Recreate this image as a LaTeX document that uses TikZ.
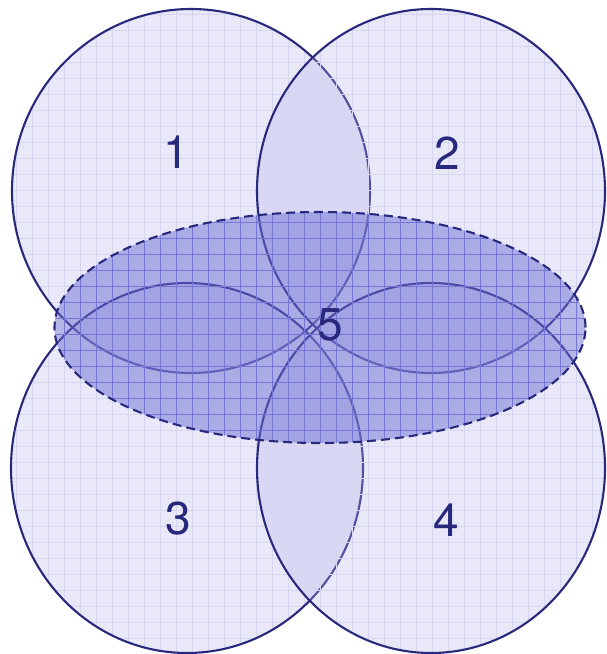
\documentclass[tikz,border=0pt]{standalone}
\usepackage{fontspec}
\setmainfont{TeX Gyre Heros}
\usetikzlibrary{patterns.meta}
\definecolor{linec}{RGB}{40,40,125}
\definecolor{circfill}{RGB}{180,180,235}
\definecolor{circgrid}{RGB}{214,214,241}
\definecolor{ellfill}{RGB}{110,110,210}
\definecolor{ellgrid}{RGB}{118,118,212}
\tikzset{
  circbody/.style={fill=circfill, fill opacity=0.3},
  circpat/.style={pattern={Hatch[angle=0,distance=16pt,line width=0.5pt]}, pattern color=circgrid},
  circline/.style={draw=linec, line width=2.1pt},
  ellbody/.style={fill=ellfill, fill opacity=0.5},
  ellpat/.style={pattern={Hatch[angle=0,distance=16pt,line width=0.5pt]}, pattern color=ellgrid},
  ellline/.style={draw=linec, line width=2.1pt, dash pattern=on 9pt off 5pt},
  lab/.style={text=linec, inner sep=0pt, font=\fontsize{46}{46}\selectfont}
}
\begin{document}
\begin{tikzpicture}[x=1pt,y=1pt]
\useasboundingbox (0,0) rectangle (606,654);
% circle 1
\coordinate (c1) at (191,463);
\path[circbody] (c1) ellipse [x radius=179, y radius=182];
\path[circpat] (c1) ellipse [x radius=179, y radius=182];
\path[circline] (c1) ellipse [x radius=179, y radius=182];
% circle 2
\coordinate (c2) at (431,463);
\path[circbody] (c2) ellipse [x radius=174, y radius=182];
\path[circpat] (c2) ellipse [x radius=174, y radius=182];
\path[circline] (c2) ellipse [x radius=174, y radius=182];
% circle 3
\coordinate (c3) at (187,186);
\path[circbody] (c3) ellipse [x radius=176, y radius=185];
\path[circpat] (c3) ellipse [x radius=176, y radius=185];
\path[circline] (c3) ellipse [x radius=176, y radius=185];
% circle 4
\coordinate (c4) at (431,186);
\path[circbody] (c4) ellipse [x radius=174, y radius=185];
\path[circpat] (c4) ellipse [x radius=174, y radius=185];
\path[circline] (c4) ellipse [x radius=174, y radius=185];
% ellipse 5
\coordinate (c5) at (320,326.5);
\path[ellbody] (c5) ellipse [x radius=265.5, y radius=115.5];
\path[ellpat] (c5) ellipse [x radius=265.5, y radius=115.5];
\path[ellline] (c5) ellipse [x radius=265.5, y radius=115.5];
% labels
\node[lab] (l1) at (176,502) {1};
\node[lab] (l2) at (447,501) {2};
\node[lab] (l3) at (178,135) {3};
\node[lab] (l4) at (446,134) {4};
\node[lab] (l5) at (330,329) {5};
\end{tikzpicture}
\end{document}
